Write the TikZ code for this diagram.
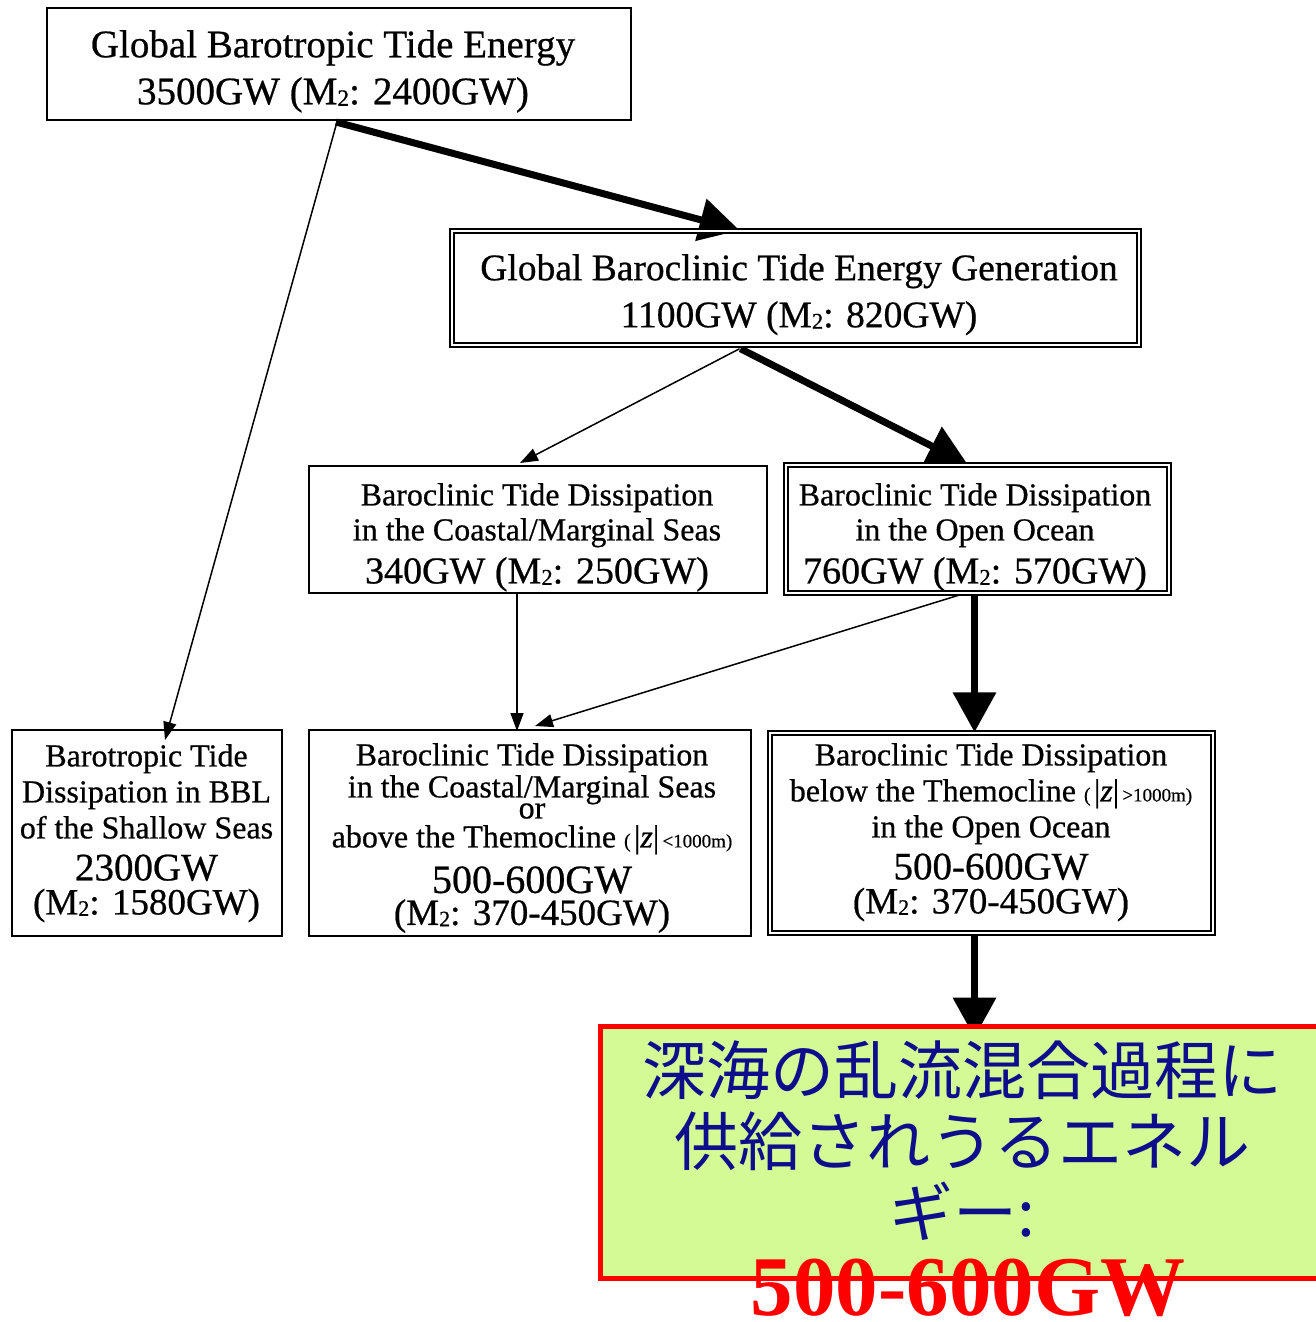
\documentclass[tikz,border=0pt]{standalone}
\usepackage{fontspec}
\usepackage{graphicx}
\setmainfont{Liberation Serif}
\newfontfamily\gara{Liberation Serif}[FakeBold=0.6]
\newfontfamily\cjk{Noto Sans CJK JP}
\usetikzlibrary{arrows.meta,calc,backgrounds}
\definecolor{navy}{RGB}{14,14,140}
\definecolor{boxgreen}{RGB}{212,250,150}
\definecolor{boxred}{RGB}{255,0,0}
\newcommand{\fsz}[2]{\fontsize{#1}{#2}\selectfont}
\newcommand{\mtwo}{M\raisebox{-0.04em}{\scalebox{0.6}{2}}}
\begin{document}
\begin{tikzpicture}[x=1pt,y=-1pt,
  box/.style={draw=black,line width=2pt,rectangle,inner sep=0pt},
  dbox/.style={draw=black,rectangle,inner sep=0pt,line width=1.5pt,double=white,double distance=2.5pt},
  txt/.style={inner sep=0pt,align=center,anchor=north},
  thinarrow/.style={line width=1.5pt,-{Triangle[length=18pt,width=13pt]}},
  thickarrow/.style={line width=7pt,-{Triangle[length=40pt,width=42pt]}}]
\useasboundingbox (0,0) rectangle (1316,1322);

% boxes
\node[box,minimum width=584pt,minimum height=112pt] (a) at (339,64) {};
\node[dbox,minimum width=687pt,minimum height=114pt] (b) at (795.5,288) {};
\node[box,minimum width=458pt,minimum height=127pt] (c) at (538,529.5) {};
\node[dbox,minimum width=383pt,minimum height=128pt] (d) at (977.5,529) {};
\node[box,minimum width=270pt,minimum height=206pt] (e) at (147,833) {};
\node[box,minimum width=442pt,minimum height=206pt] (f) at (530,833) {};
\node[dbox,minimum width=443pt,minimum height=200pt] (g) at (991.5,833) {};
\node[draw=boxred,fill=boxgreen,line width=5pt,rectangle,inner sep=0pt,
      minimum width=722pt,minimum height=252pt] (h) at (961,1152) {};

% texts
\node[txt,font=\gara\fsz{39}{47}] (ta) at (333,30)
  {Global Barotropic Tide Energy\\3500GW (\mtwo: 2400GW)};
\node[txt,font=\gara\fsz{37.5}{47}] (tb) at (799,254)
  {Global Baroclinic Tide Energy Generation\\1100GW (\mtwo: 820GW)};
\node[txt,font=\gara\fsz{32}{35}] (tc) at (537,483)
  {Baroclinic Tide Dissipation\\in the Coastal/Marginal Seas\\[8pt]\fsz{38}{43}340GW (\mtwo: 250GW)};
\node[txt,font=\gara\fsz{32}{35}] (td) at (975,483)
  {Baroclinic Tide Dissipation\\in the Open Ocean\\[8pt]\fsz{38}{43}760GW (\mtwo: 570GW)};
\node[txt,font=\gara\fsz{32}{36}] (te) at (146.5,744)
  {Barotropic Tide\\Dissipation in BBL\\of the Shallow Seas\\[6pt]\fsz{39}{39}2300GW\\[-2pt]\fsz{37}{37}(\mtwo: 1580GW)};
\node[txt,font=\gara\fsz{32}{32}] (tf) at (532,743)
  {Baroclinic Tide Dissipation\\in the Coastal/Marginal Seas\\[-11pt]or\\[-3pt]above the Themocline {\fsz{20}{20}(\,}\textbar\textit{z}\textbar{\fsz{19}{19}\,<1000m)}\\[11pt]\fsz{40}{40}500-600GW\\\fsz{37}{37}(\mtwo: 370-450GW)};
\node[txt,font=\gara\fsz{32}{36}] (tg) at (991,743)
  {Baroclinic Tide Dissipation\\below the Themocline {\fsz{20}{20}(\,}\textbar\textit{z}\textbar{\fsz{19}{19}\,>1000m)}\\in the Open Ocean\\[6pt]\fsz{39}{39}500-600GW\\[-2pt]\fsz{37}{37}(\mtwo: 370-450GW)};
\node[txt,font=\cjk\fsz{64}{71},text=navy] (th) at (962,1040)
  {深海の乱流混合過程に\\供給されうるエネル\\ギー:};
\node[inner sep=0pt,anchor=base,font=\bfseries\fsz{85}{85},text=boxred] (hv) at (968,1315) {500-600GW};

% connectors
\begin{scope}[on background layer]
\draw[thickarrow] ($(a.south)+(-3,1)$) -- ($(b.north)+(-56,0)$);
\draw[thinarrow] ($(a.south)+(-2,1)$) -- ($(e.north)+(18,11)$);
\draw[thinarrow] ($(b.south)+(-56,3)$) -- ($(c.north)+(-18,-2)$);
\draw[thickarrow] ($(b.south)+(-55,3)$) -- ($(d.north)+(-10,0)$);
\draw[thinarrow] ($(c.south)+(-21,0)$) -- ($(f.north)+(-13,2)$);
\draw[thinarrow] ($(d.south)+(-14,0)$) -- ($(f.north)+(5,-3)$);
\draw[thickarrow] ($(d.south)+(-3,0)$) -- ($(g.north)+(-17,0)$);
\draw[thickarrow] ($(g.south)+(-17,0)$) -- ($(h.north)+(13.5,14)$);
\end{scope}
\end{tikzpicture}
\end{document}
